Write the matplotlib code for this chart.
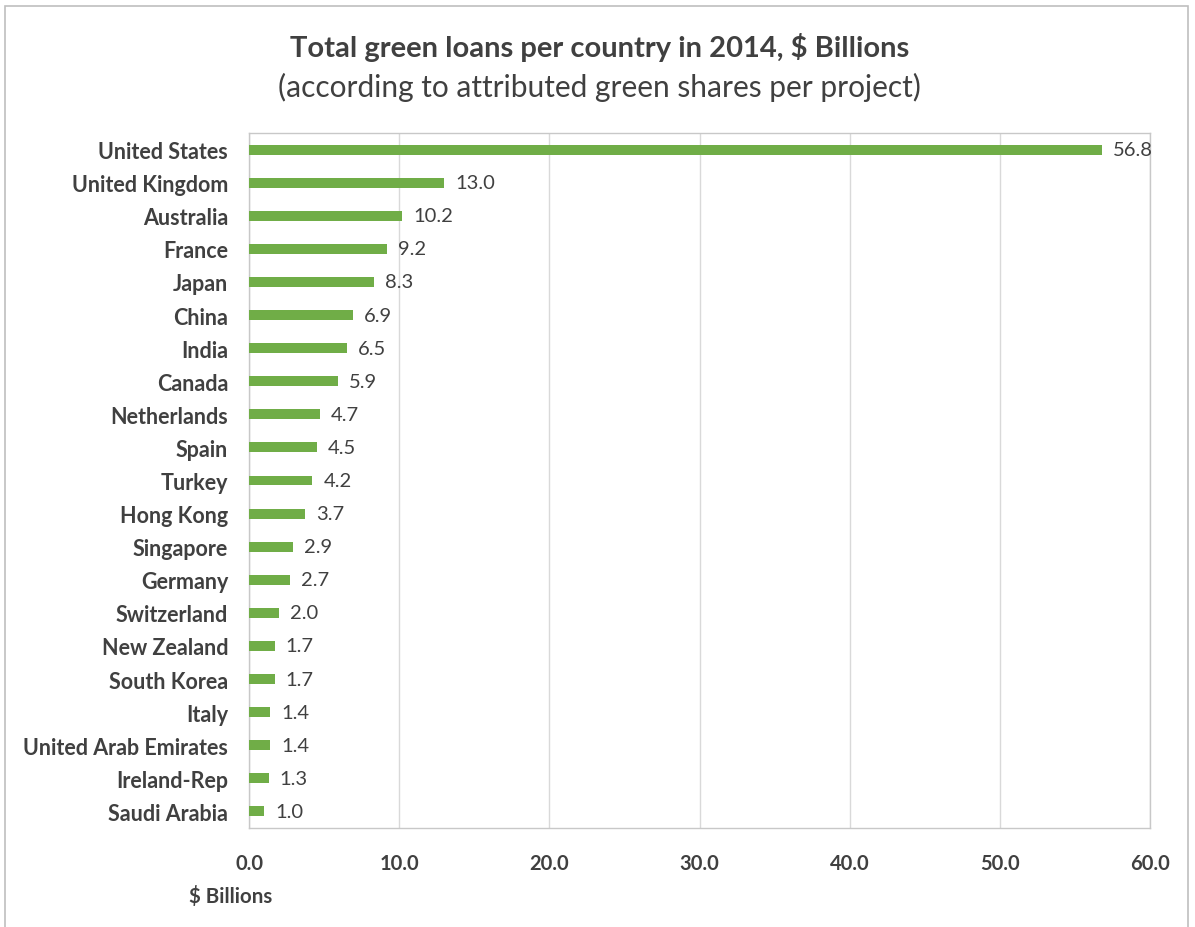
import matplotlib.pyplot as plt
from matplotlib.patches import Rectangle

plt.rcParams['font.family'] = ['Lato', 'DejaVu Sans']

countries = ['United States', 'United Kingdom', 'Australia', 'France', 'Japan',
             'China', 'India', 'Canada', 'Netherlands', 'Spain', 'Turkey',
             'Hong Kong', 'Singapore', 'Germany', 'Switzerland', 'New Zealand',
             'South Korea', 'Italy', 'United Arab Emirates', 'Ireland-Rep',
             'Saudi Arabia']
loans = [56.8, 13.0, 10.2, 9.2, 8.3, 6.9, 6.5, 5.9, 4.7, 4.5, 4.2,
         3.7, 2.9, 2.7, 2.0, 1.7, 1.7, 1.4, 1.4, 1.3, 1.0]
xticks = [0, 10, 20, 30, 40, 50, 60]

green = '#70ad47'
txt = '#404040'
grid = '#d9d9d9'

fig = plt.figure(figsize=(11.95, 9.28), dpi=100)
# outer chart border
fig.patches.append(Rectangle((5/1195, -0.01), 1183/1195, 1 - 7/928 + 0.01,
                             transform=fig.transFigure, fill=False,
                             edgecolor='#bfbfbf', lw=1.2))

ax = fig.add_axes([249/1195, 1 - 829/928, 901/1195, 695/928])
pos = list(range(len(countries)))
ax.barh(pos, loans, height=0.3, color=green, zorder=3)
for p, v in zip(pos, loans):
    ax.text(v + 0.75, p, f'{v:.1f}', va='center', ha='left',
            fontsize=14.5, color=txt, zorder=4)

ax.set_ylim(len(countries) - 0.5, -0.5)
ax.set_xlim(0, 60)
ax.set_yticks(pos)
ax.set_yticklabels(countries, fontsize=15.5, fontweight='bold', color=txt)
ax.set_xticks(xticks)
ax.set_xticklabels([f'{t:.1f}' for t in xticks], fontsize=14.5,
                   fontweight='bold', color=txt)
ax.tick_params(axis='y', length=0, pad=15)
ax.tick_params(axis='x', length=0, pad=18)
ax.grid(axis='x', color=grid, lw=1, zorder=0)
for s in ax.spines.values():
    s.set_color('#c8c8c8')
    s.set_linewidth(1)

fig.text(0.502, 1 - 47/928, 'Total green loans per country in 2014, $ Billions',
         ha='center', va='center', fontsize=21, fontweight='bold', color=txt)
fig.text(0.502, 1 - 87/928, '(according to attributed green shares per project)',
         ha='center', va='center', fontsize=21.5, color=txt)
fig.text(231/1195, 1 - 897/928, '$ Billions', ha='center', va='center',
         fontsize=14.8, fontweight='bold', color=txt)

fig.savefig('out.png', dpi=100)
